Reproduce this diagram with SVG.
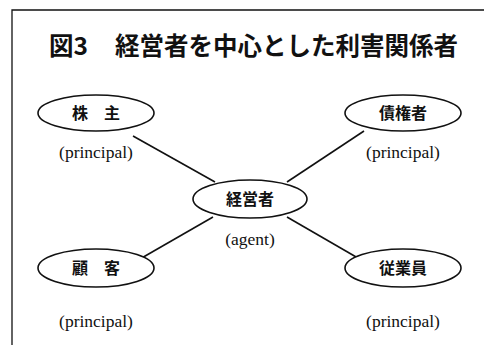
<svg xmlns="http://www.w3.org/2000/svg" width="484" height="345" viewBox="0 0 484 345">
<style>
.frame{fill:none;stroke:#111;stroke-width:1.3}
.node ellipse{fill:#fff;stroke:#111;stroke-width:1.6}
.lbl{font-family:"Noto Sans CJK JP",sans-serif;font-weight:bold;font-size:16px;fill:#111;text-anchor:middle}
.sub{font-family:"Liberation Serif",serif;font-size:17.5px;fill:#111;text-anchor:middle}
.conn line{stroke:#111;stroke-width:1.6}
.title{font-family:"Noto Sans CJK JP",sans-serif;font-weight:bold;font-size:24.5px;fill:#111}
</style>
<rect width="484" height="345" fill="#fff"/>
<path class="frame" d="M12,345 V10 H484"/>
<text class="title" x="49" y="55">図3</text>
<text class="title" x="115" y="55">経営者を中心とした利害関係者</text>
<g id="connectors" class="conn">
<line x1="133" y1="136" x2="215" y2="182"/>
<line x1="364" y1="131" x2="287" y2="182"/>
<line x1="213" y1="217" x2="133" y2="263"/>
<line x1="287" y1="217" x2="370" y2="265"/>
</g>
<g id="kabunushi" class="node">
<ellipse cx="96" cy="113" rx="58" ry="18"/>
<text class="lbl" x="96" y="119">株　主</text>
<text class="sub" x="96" y="158">(principal)</text>
</g>
<g id="saikensha" class="node">
<ellipse cx="403" cy="113" rx="58" ry="18"/>
<text class="lbl" x="403" y="119">債権者</text>
<text class="sub" x="403" y="158">(principal)</text>
</g>
<g id="keieisha" class="node">
<ellipse cx="250" cy="199" rx="57" ry="19"/>
<text class="lbl" x="250" y="205">経営者</text>
<text class="sub" x="250" y="245">(agent)</text>
</g>
<g id="kokyaku" class="node">
<ellipse cx="96" cy="268" rx="58" ry="19"/>
<text class="lbl" x="96" y="274">顧　客</text>
<text class="sub" x="96" y="327">(principal)</text>
</g>
<g id="jugyoin" class="node">
<ellipse cx="403" cy="268" rx="58" ry="19"/>
<text class="lbl" x="403" y="274">従業員</text>
<text class="sub" x="403" y="327">(principal)</text>
</g>
</svg>
